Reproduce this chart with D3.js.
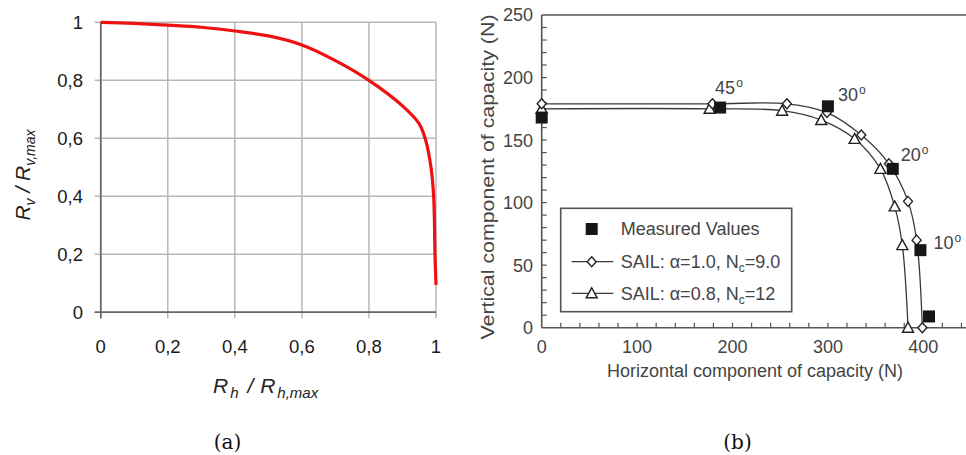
<!DOCTYPE html>
<html><head><meta charset="utf-8">
<script src="https://cdn.jsdelivr.net/npm/d3@7"></script>
<style>body{margin:0;background:#fff} svg{display:block}</style>
</head><body>
<svg id="c" width="966" height="455"></svg>
<script>
// ---------- (a) normalised interaction curve ----------
const rhNorm = [0, 0.1, 0.2, 0.3, 0.4, 0.5, 0.6, 0.7, 0.8, 0.9, 0.95, 0.97, 0.985, 0.993, 0.997, 1.0];
const rvNorm = [1, 0.996, 0.99, 0.983, 0.97, 0.953, 0.922, 0.868, 0.8, 0.712, 0.65, 0.59, 0.5, 0.4, 0.2, 0.094];
const normTicks = [0, 0.2, 0.4, 0.6, 0.8, 1];
const normTickLabels = ["0", "0,2", "0,4", "0,6", "0,8", "1"];

// ---------- (b) capacity envelope ----------
const measuredH = [0, 187, 300, 368, 397, 406];
const measuredV = [168, 176, 177, 127, 62, 9];
const sail1H = [0, 179, 257, 299, 335, 364, 384, 393, 399];
const sail1V = [179, 179, 179, 172, 154, 131, 101, 70, 0];
const sail2H = [0, 176, 252, 293, 328, 355, 370, 378, 384];
const sail2V = [175, 175, 173.5, 166, 151, 127, 97, 66, 0];
const angleLabels = ["45", "30", "20", "10"];
const angleMeasuredIndex = [1, 2, 3, 4];
const capTicksX = [0, 100, 200, 300, 400];
const capTicksY = [0, 50, 100, 150, 200, 250];
const panelLabels = ["(a)", "(b)"];

const svg = d3.select("#c");

// ================= panel (a) =================
const xa = d3.scaleLinear().domain([0, 1]).range([100.7, 436]);
const ya = d3.scaleLinear().domain([0, 1]).range([312.3, 22.3]);
const ga = svg.append("g").style("font-family", "'Liberation Sans', Arial, sans-serif");

// grid
ga.selectAll("line.vg").data(normTicks).join("line").attr("class", "vg")
  .attr("x1", d => xa(d)).attr("x2", d => xa(d))
  .attr("y1", ya(1)).attr("y2", ya(0) + 6)
  .attr("stroke", d => d === 0 ? "#666" : "#b8b8b8").attr("stroke-width", 1.5);
ga.selectAll("line.hg").data(normTicks).join("line").attr("class", "hg")
  .attr("y1", d => ya(d)).attr("y2", d => ya(d))
  .attr("x1", xa(0) - 6).attr("x2", xa(1))
  .attr("stroke", d => d === 0 ? "#666" : "#b8b8b8").attr("stroke-width", 1.5);
// axis lines on top
ga.append("line").attr("x1", xa(0)).attr("x2", xa(0)).attr("y1", ya(1)).attr("y2", ya(0) + 6)
  .attr("stroke", "#666").attr("stroke-width", 1.5);
ga.append("line").attr("x1", xa(0) - 6).attr("x2", xa(1)).attr("y1", ya(0)).attr("y2", ya(0))
  .attr("stroke", "#666").attr("stroke-width", 1.5);

// tick labels
ga.selectAll("text.yl").data(normTicks).join("text").attr("class", "yl")
  .attr("x", 83).attr("y", d => ya(d)).attr("dy", "0.36em")
  .attr("text-anchor", "end").style("font-size", "18.5px").attr("fill", "#1a1a1a")
  .text((d, i) => normTickLabels[i]);
ga.selectAll("text.xl").data(normTicks).join("text").attr("class", "xl")
  .attr("x", d => xa(d)).attr("y", 353)
  .attr("text-anchor", "middle").style("font-size", "18.5px").attr("fill", "#1a1a1a")
  .text((d, i) => normTickLabels[i]);

// red curve
const redLine = d3.line().x(d => xa(d[0])).y(d => ya(d[1])).curve(d3.curveCatmullRom.alpha(0.5));
ga.append("path").datum(rhNorm.map((h, i) => [h, rvNorm[i]]))
  .attr("d", redLine).attr("fill", "none").attr("stroke", "#ee1111").attr("stroke-width", 3.2)
  .attr("stroke-linejoin", "round");

// axis titles
const xt = ga.append("text").attr("x", 213).attr("y", 393)
  .style("font-style", "italic").style("font-size", "21px").attr("fill", "#222");
xt.append("tspan").text("R");
xt.append("tspan").attr("dx", 2).attr("dy", 5).style("font-size", "15px").text("h");
xt.append("tspan").attr("dx", 9).attr("dy", -5).text("/ ");
xt.append("tspan").attr("dx", 1).text("R");
xt.append("tspan").attr("dx", 2).attr("dy", 5).style("font-size", "15px").text("h,max");

const yt = ga.append("text").attr("transform", "translate(30,175) rotate(-90)")
  .attr("text-anchor", "middle")
  .style("font-style", "italic").style("font-size", "21px").attr("fill", "#222");
yt.append("tspan").text("R");
yt.append("tspan").attr("dy", 5).style("font-size", "14px").text("v");
yt.append("tspan").attr("dy", -5).text(" / R");
yt.append("tspan").attr("dy", 5).style("font-size", "14px").text("v,max");

// ================= panel (b) =================
const xb = d3.scaleLinear().domain([0, 400]).range([541.7, 923.3]);
const yb = d3.scaleLinear().domain([0, 250]).range([327.7, 15]);
const gb = svg.append("g").style("font-family", "'Liberation Sans', Arial, sans-serif");
const axisCol = "#555";
const textCol = "#444";

// frame
gb.append("line").attr("x1", xb(0)).attr("x2", 966).attr("y1", yb(250)).attr("y2", yb(250))
  .attr("stroke", axisCol).attr("stroke-width", 1.6);
gb.append("line").attr("x1", xb(0)).attr("x2", 966).attr("y1", yb(0)).attr("y2", yb(0))
  .attr("stroke", axisCol).attr("stroke-width", 1.6);
gb.append("line").attr("x1", xb(0)).attr("x2", xb(0)).attr("y1", yb(250)).attr("y2", yb(0))
  .attr("stroke", axisCol).attr("stroke-width", 1.6);

// minor ticks (inside)
const xMinor = d3.range(20, 460, 20);
const yMinor = d3.range(10, 250, 10);
gb.selectAll("line.xt").data(xMinor).join("line").attr("class", "xt")
  .attr("x1", d => xb(d)).attr("x2", d => xb(d)).attr("y1", yb(0)).attr("y2", yb(0) - 5)
  .attr("stroke", axisCol).attr("stroke-width", 1.2);
gb.selectAll("line.yt").data(yMinor).join("line").attr("class", "yt")
  .attr("y1", d => yb(d)).attr("y2", d => yb(d)).attr("x1", xb(0)).attr("x2", xb(0) + 5)
  .attr("stroke", axisCol).attr("stroke-width", 1.2);

// tick labels
gb.selectAll("text.xl").data(capTicksX).join("text").attr("class", "xl")
  .attr("x", d => xb(d)).attr("y", 353).attr("text-anchor", "middle")
  .style("font-size", "18px").attr("fill", textCol).text(d => d);
gb.selectAll("text.yl").data(capTicksY).join("text").attr("class", "yl")
  .attr("x", 533).attr("y", d => yb(d)).attr("dy", "0.36em").attr("text-anchor", "end")
  .style("font-size", "18px").attr("fill", textCol).text(d => d);

// axis titles
gb.append("text").attr("x", 755).attr("y", 377).attr("text-anchor", "middle")
  .style("font-size", "18px").attr("fill", textCol)
  .text("Horizontal component of capacity (N)");
gb.append("text").attr("transform", "translate(494,177) rotate(-90)").attr("text-anchor", "middle")
  .style("font-size", "19px").attr("fill", textCol)
  .attr("textLength", 325).attr("lengthAdjust", "spacingAndGlyphs")
  .text("Vertical component of capacity (N)");

// curves
const capLine = d3.line().x(d => xb(d[0])).y(d => yb(d[1])).curve(d3.curveCatmullRom.alpha(0.5));
const sail1 = sail1H.map((h, i) => [h, sail1V[i]]);
const sail2 = sail2H.map((h, i) => [h, sail2V[i]]);
[sail1, sail2].forEach(s => {
  gb.append("path").datum(s).attr("d", capLine).attr("fill", "none")
    .attr("stroke", "#3a3a3a").attr("stroke-width", 1.3);
});

// marker shapes
const diamondPath = "M0,-5 L4.5,0 L0,5 L-4.5,0 Z";
const trianglePath = "M0,-5.5 L5.5,4.5 L-5.5,4.5 Z";
const squarePath = "M-6,-6 H6 V6 H-6 Z";

gb.selectAll("path.tri").data(sail2).join("path").attr("class", "tri")
  .attr("transform", d => `translate(${xb(d[0])},${yb(d[1])})`)
  .attr("d", trianglePath).attr("fill", "#fff").attr("stroke", "#222").attr("stroke-width", 1.4);
gb.selectAll("path.dia").data(sail1).join("path").attr("class", "dia")
  .attr("transform", d => `translate(${xb(d[0])},${yb(d[1])})`)
  .attr("d", diamondPath).attr("fill", "#fff").attr("stroke", "#222").attr("stroke-width", 1.4);
const measured = measuredH.map((h, i) => [h, measuredV[i]]);
gb.selectAll("path.sq").data(measured).join("path").attr("class", "sq")
  .attr("transform", d => `translate(${xb(d[0])},${yb(d[1])})`)
  .attr("d", squarePath).attr("fill", "#161616");

// angle annotations next to measured points
const angleOffsets = [[-5, -14], [10, -5], [8, -8], [13, -1]];
angleLabels.forEach((lab, i) => {
  const p = measured[angleMeasuredIndex[i]];
  const t = gb.append("text").attr("x", xb(p[0]) + angleOffsets[i][0]).attr("y", yb(p[1]) + angleOffsets[i][1])
    .style("font-size", "18px").attr("fill", textCol);
  t.append("tspan").text(lab);
  t.append("tspan").attr("dy", -7).attr("dx", 1).style("font-size", "12px").text("o");
});

// legend
const lg = gb.append("g");
lg.append("rect").attr("x", 560.7).attr("y", 208.3).attr("width", 231).attr("height", 103.4)
  .attr("fill", "#fff").attr("stroke", axisCol).attr("stroke-width", 1.6);
const legY = [229, 261.7, 293.3];
lg.append("path").attr("transform", `translate(591.7,${legY[0]})`).attr("d", squarePath).attr("fill", "#161616");
[1, 2].forEach(k => {
  lg.append("line").attr("x1", 571.7).attr("x2", 613.3).attr("y1", legY[k]).attr("y2", legY[k])
    .attr("stroke", "#3a3a3a").attr("stroke-width", 1.3);
  lg.append("path").attr("transform", `translate(591.7,${legY[k]})`)
    .attr("d", k === 1 ? diamondPath : trianglePath)
    .attr("fill", "#fff").attr("stroke", "#222").attr("stroke-width", 1.4);
});
lg.append("text").attr("x", 620.7).attr("y", legY[0]).attr("dy", "0.36em")
  .style("font-size", "18px").attr("fill", textCol).text("Measured Values");
const legSeries = [["1.0", "9.0"], ["0.8", "12"]];
legSeries.forEach((s, j) => {
  const t = lg.append("text").attr("x", 620.7).attr("y", legY[j + 1]).attr("dy", "0.36em")
    .style("font-size", "18px").attr("fill", textCol);
  t.append("tspan").text(`SAIL: \u03b1=${s[0]}, N`);
  t.append("tspan").attr("dy", 4).style("font-size", "12px").text("c");
  t.append("tspan").attr("dy", -4).text(`=${s[1]}`);
});

// panel labels
svg.selectAll("text.pl").data(panelLabels).join("text").attr("class", "pl")
  .attr("x", (d, i) => [227.5, 737.5][i]).attr("y", 449).attr("text-anchor", "middle")
  .style("font-family", "'DejaVu Serif', serif").style("font-size", "20px").attr("fill", "#111")
  .text(d => d);
</script>
</body></html>
